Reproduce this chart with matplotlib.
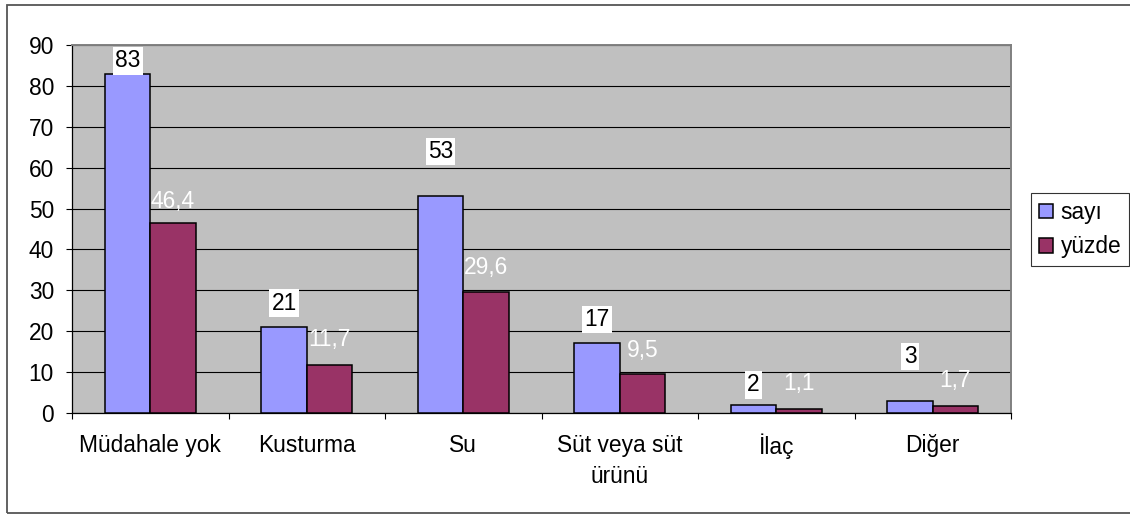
import matplotlib
matplotlib.use('Agg')
import matplotlib.pyplot as plt
from matplotlib.patches import Rectangle
import numpy as np

plt.rcParams['font.family'] = ['Liberation Sans', 'DejaVu Sans']

categories = ['Müdahale yok', 'Kusturma', 'Su', 'Süt veya süt\nürünü', 'İlaç', 'Diğer']
sayi = [83, 21, 53, 17, 2, 3]
yuzde = [46.4, 11.7, 29.6, 9.5, 1.1, 1.7]
yticks = list(range(0, 91, 10))

# heights (data units) where the value labels sit
sayi_label_y = [86.1, 26.9, 63.9, 22.9, 6.9, 13.8]
yuzde_label_y = [51.8, 17.9, 35.5, 15.4, 7.2, 7.9]

W, H = 1130, 514
fig = plt.figure(figsize=(W / 100, H / 100), dpi=100)
fig.patch.set_facecolor('white')

# chart area frame
fig.patches.append(Rectangle((7 / W, 1 / H), 1.2, (513 - 5) / H,
                             transform=fig.transFigure, fill=False,
                             edgecolor='#555555', lw=1.3))

ax = fig.add_axes([72 / W, (H - 413) / H, (1011 - 72) / W, (413 - 45) / H])
ax.set_facecolor('#C0C0C0')

x = np.arange(len(categories))
bw = 0.29
fs = 16.4
b1 = ax.bar(x - bw / 2, sayi, bw, color='#9999FF', edgecolor='black', lw=1.1, label='sayı', zorder=3)
b2 = ax.bar(x + bw / 2, yuzde, bw, color='#993366', edgecolor='black', lw=1.1, label='yüzde', zorder=3)

for xi, v, ly in zip(x, sayi, sayi_label_y):
    ax.text(xi - bw / 2, ly, f'{v:g}', ha='center', va='center', fontsize=fs, color='black',
            bbox=dict(boxstyle='square,pad=0.1', fc='white', ec='none'), zorder=5)
for xi, v, ly in zip(x, yuzde, yuzde_label_y):
    ax.text(xi + bw / 2, ly, f'{v:g}'.replace('.', ','), ha='center', va='center',
            fontsize=fs, color='white', zorder=5)

ax.set_xlim(-0.5, len(categories) - 0.5)
ax.set_ylim(0, 90)
ax.set_yticks(yticks)
ax.yaxis.grid(True, color='black', lw=0.8, zorder=1)
ax.set_axisbelow(True)

ax.set_xticks(x)
ax.set_xticklabels(categories, linespacing=1.45)
ax.set_xticks(np.arange(-0.5, len(categories)), minor=True)
ax.tick_params(axis='x', which='major', length=0, pad=15, labelsize=fs)
ax.tick_params(axis='x', which='minor', length=4, width=0.8, direction='out')
ax.tick_params(axis='y', length=4, width=0.8, pad=9, labelsize=fs)

for side in ['top', 'right']:
    ax.spines[side].set_color('#808080')
    ax.spines[side].set_linewidth(1.4)
for side in ['left', 'bottom']:
    ax.spines[side].set_color('black')
    ax.spines[side].set_linewidth(0.9)

leg = fig.legend(handles=[b1, b2], loc='upper left', bbox_to_anchor=(1031 / W, 1 - 193 / H),
                 bbox_transform=fig.transFigure, fontsize=fs, frameon=True, fancybox=False,
                 borderaxespad=0, borderpad=0.35, handlelength=0.6, handleheight=0.6,
                 handletextpad=0.35, labelspacing=0.5)
leg.get_frame().set_edgecolor('black')
leg.get_frame().set_linewidth(0.8)

fig.savefig('out.png', dpi=100)
